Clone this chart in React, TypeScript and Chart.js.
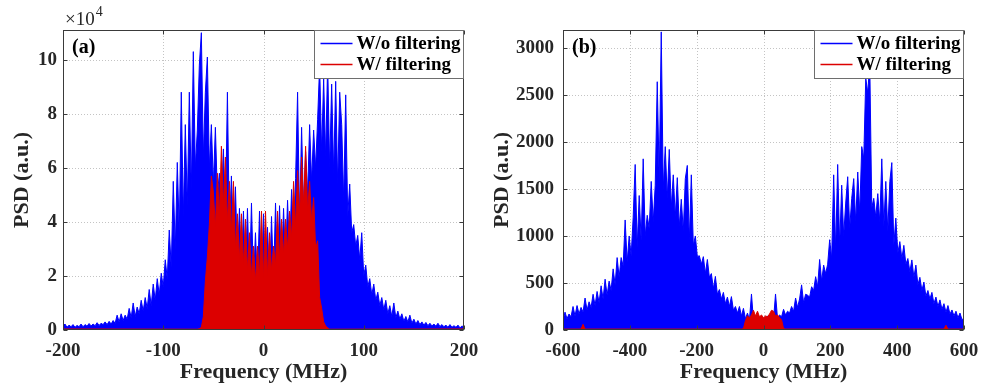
import React, { useEffect, useRef } from "react";
import { Chart, registerables } from "chart.js";

Chart.register(...registerables);

// ---------- Panel (a) data (PSD in units of 1e4) ----------
const A_X_TICKS = [-200, -100, 0, 100, 200];
const A_Y_TICKS = [0, 2, 4, 6, 8, 10];
const A_X_MIN = -200;
const A_X_MAX = 200;
const A_Y_MAX = 11.1;

const A_BLUE_START = -200;
const A_BLUE_STEP = 2;
const A_BLUE_PSD = [
  0.15, 0.22, 0.1, 0.18, 0.12, 0.2, 0.1, 0.17, 0.12, 0.22,
  0.12, 0.2, 0.14, 0.24, 0.15, 0.22, 0.16, 0.27, 0.17, 0.25,
  0.2, 0.3, 0.2, 0.32, 0.22, 0.35, 0.25, 0.55, 0.3, 0.6,
  0.35, 0.55, 0.4, 0.8, 0.45, 1.0, 0.5, 0.85, 0.6, 1.1,
  0.7, 1.2, 0.8, 1.5, 0.9, 1.7, 1.1, 1.9, 1.3, 2.1,
  1.6, 2.6, 1.9, 3.7, 2.3, 5.5, 3.0, 6.2, 3.6, 8.8,
  4.2, 7.6, 4.6, 8.8, 5.2, 10.3, 6.0, 7.4, 9.8, 11.0,
  6.4, 8.8, 10.1, 6.0, 7.6, 5.4, 7.5, 5.0, 5.8, 4.6,
  6.7, 4.0, 8.8, 3.6, 5.7, 3.0, 5.3, 2.6, 4.5, 2.2,
  4.4, 2.0, 4.5, 1.8, 4.7, 1.8, 3.6, 1.6, 4.4, 1.5,
  4.3, 1.6, 3.8, 1.6, 4.2, 1.8, 4.7, 2.0, 4.6, 2.2,
  4.5, 2.5, 4.8, 2.8, 5.2, 3.2, 5.6, 8.8, 4.0, 7.5,
  4.4, 6.6, 5.0, 7.6, 5.5, 7.4, 6.0, 7.8, 9.8, 6.6,
  9.3, 6.4, 9.9, 6.0, 9.1, 5.8, 9.2, 5.4, 8.8, 7.6,
  4.8, 8.7, 4.2, 5.4, 3.6, 3.9, 3.1, 3.5, 2.6, 3.6,
  2.0, 2.4, 1.6, 1.9, 1.3, 1.7, 1.1, 1.4, 0.9, 1.2,
  0.75, 1.1, 0.6, 0.9, 0.5, 1.0, 0.45, 0.7, 0.4, 0.6,
  0.32, 0.5, 0.3, 0.55, 0.25, 0.4, 0.22, 0.35, 0.2, 0.3,
  0.18, 0.28, 0.16, 0.25, 0.15, 0.22, 0.14, 0.25, 0.13, 0.2,
  0.12, 0.18, 0.1, 0.2, 0.1, 0.16, 0.1, 0.18, 0.08, 0.15,
  0.1,
];

const A_RED_START = -66;
const A_RED_STEP = 2;
const A_RED_FLOOR = 0.04;
const A_RED_PSD = [
  0.03, 0.05, 0.1, 0.5, 1.8, 2.7, 3.9, 5.7,
  5.1, 3.8, 5.8, 4.2, 6.8, 4.6, 6.4, 4.0, 5.5, 3.6,
  5.5, 3.0, 4.3, 2.6, 4.3, 2.4, 4.1, 2.2, 3.6, 2.0,
  3.1, 1.8, 3.1, 2.0, 4.4, 1.9, 4.4, 2.0, 3.6, 2.2,
  3.1, 2.4, 4.4, 2.6, 4.1, 2.8, 4.1, 3.0, 4.4, 3.4,
  5.5, 3.8, 5.9, 4.2, 6.4, 4.6, 6.8, 4.4, 5.5, 4.0,
  4.9, 3.0, 3.3, 1.2, 0.8, 0.3, 0.15, 0.08, 0.03,
];

// ---------- Panel (b) data (PSD, a.u.) ----------
const B_X_TICKS = [-600, -400, -200, 0, 200, 400, 600];
const B_Y_TICKS = [0, 500, 1000, 1500, 2000, 2500, 3000];
const B_X_MIN = -600;
const B_X_MAX = 600;
const B_Y_MAX = 3190;

const B_BLUE_START = -600;
const B_BLUE_STEP = 6;
const B_BLUE_PSD = [
  100, 190, 120, 170, 140, 250, 150, 260, 170, 240,
  190, 340, 210, 300, 240, 380, 260, 410, 290, 470,
  330, 540, 370, 520, 420, 650, 480, 770, 560, 770,
  680, 1170, 720, 1000, 790, 1200, 1760, 880, 1430, 950,
  1820, 1000, 1220, 1080, 1580, 1150, 1540, 2640, 1600, 3170,
  1500, 1950, 1400, 1920, 1300, 1650, 1200, 1620, 1100, 1390,
  1050, 1610, 1750, 950, 1650, 900, 1000, 780, 790, 700,
  780, 600, 750, 560, 600, 440, 570, 380, 430, 330,
  400, 280, 350, 250, 355, 210, 250, 180, 250, 150,
  230, 120, 180, 110, 383, 100, 150, 100, 140, 95,
  130, 100, 150, 110, 140, 110, 383, 120, 160, 140,
  220, 160, 200, 180, 250, 200, 340, 240, 330, 480,
  290, 380, 370, 350, 460, 420, 567, 460, 750, 520,
  690, 600, 700, 960, 760, 1650, 850, 1760, 900, 1540,
  1000, 1350, 1630, 1080, 1400, 1610, 1150, 1680, 1250, 1950,
  1826, 2680, 2520, 2850, 1300, 1400, 1200, 1450, 1150, 1820,
  1100, 1580, 1050, 1580, 1780, 900, 1190, 820, 940, 760,
  900, 700, 760, 620, 745, 560, 690, 480, 560, 420,
  510, 360, 420, 330, 400, 280, 350, 250, 320, 220,
  280, 190, 260, 170, 213, 150, 200, 130, 180, 110,
  125,
];

const B_RED_FREQ = [
  -600, -546, -540, -534, -66, -60, -54, -48, -42, -36, -30, -24, -18, -12, -6, 0,
  6, 12, 18, 24, 30, 36, 42, 48, 54, 60, 66, 540, 546, 552, 600,
];
const B_RED_PSD = [
  10, 10, 60, 10, 10, 15, 100, 150, 130, 160, 210, 150, 200, 140, 160, 130,
  150, 140, 170, 210, 200, 150, 160, 130, 110, 15, 10, 10, 50, 10, 10,
];

const LEGEND_LABELS = ["W/o filtering", "W/ filtering"];
const BLUE = "#0000ff";
const RED = "#dc0000";
const TEXT = "#262626";
const FONT = "'Liberation Serif', 'Times New Roman', serif";

type Pt = { x: number; y: number };

function gridSeries(start: number, step: number, vals: number[]): Pt[] {
  return vals.map((y, i) => ({ x: start + step * i, y }));
}

function pairSeries(xs: number[], ys: number[]): Pt[] {
  return xs.map((x, i) => ({ x, y: ys[i] }));
}

interface PanelCfg {
  blue: Pt[];
  red: Pt[];
  xMin: number;
  xMax: number;
  yMax: number;
  xTicks: number[];
  yTicks: number[];
  yAxisWidth: number;
  rightPad: number;
  yTickPad: number;
  label: string;
  exponent: boolean;
}

function gridPlugin(cfg: PanelCfg) {
  return {
    id: "dottedGrid",
    beforeDatasetsDraw(chart: any) {
      const { ctx, chartArea: ca } = chart;
      const xs = chart.scales.x;
      const ys = chart.scales.y;
      ctx.save();
      ctx.strokeStyle = "#c4c4c4";
      ctx.lineWidth = 1;
      ctx.setLineDash([1, 2]);
      ctx.beginPath();
      for (const v of cfg.xTicks) {
        const p = Math.round(xs.getPixelForValue(v)) + 0.5;
        if (p <= ca.left + 2 || p >= ca.right - 2) continue;
        ctx.moveTo(p, ca.top);
        ctx.lineTo(p, ca.bottom);
      }
      for (const v of cfg.yTicks) {
        const p = Math.round(ys.getPixelForValue(v)) + 0.5;
        if (p <= ca.top + 2 || p >= ca.bottom - 2) continue;
        ctx.moveTo(ca.left, p);
        ctx.lineTo(ca.right, p);
      }
      ctx.stroke();
      ctx.restore();
    },
  };
}

function framePlugin(cfg: PanelCfg) {
  return {
    id: "frame",
    afterDraw(chart: any) {
      const { ctx, chartArea: ca } = chart;
      const xs = chart.scales.x;
      const ys = chart.scales.y;
      const L = Math.round(ca.left) + 0.5;
      const R = Math.round(ca.right) - 0.5;
      const T = Math.round(ca.top) + 0.5;
      const B = Math.round(ca.bottom) - 0.5;
      ctx.save();
      ctx.strokeStyle = "#3a3a3a";
      ctx.lineWidth = 1;
      ctx.strokeRect(L, T, R - L, B - T);
      ctx.beginPath();
      for (const v of cfg.xTicks) {
        const p = Math.round(xs.getPixelForValue(v)) + 0.5;
        ctx.moveTo(p, T);
        ctx.lineTo(p, T + 4);
        ctx.moveTo(p, B);
        ctx.lineTo(p, B - 4);
      }
      for (const v of cfg.yTicks) {
        const p = Math.round(ys.getPixelForValue(v)) + 0.5;
        ctx.moveTo(L, p);
        ctx.lineTo(L + 4, p);
        ctx.moveTo(R, p);
        ctx.lineTo(R - 4, p);
      }
      ctx.stroke();

      // panel label
      ctx.fillStyle = "#000";
      ctx.font = `bold 20px ${FONT}`;
      ctx.textAlign = "left";
      ctx.textBaseline = "alphabetic";
      ctx.fillText(cfg.label, ca.left + 9, ca.top + 23);

      // exponent label
      if (cfg.exponent) {
        ctx.fillStyle = TEXT;
        ctx.font = `19px ${FONT}`;
        ctx.fillText("\u00d710", ca.left + 2, ca.top - 5);
        const w = ctx.measureText("\u00d710").width;
        ctx.font = `14px ${FONT}`;
        ctx.fillText("4", ca.left + 2 + w + 1, ca.top - 14);
      }

      // legend
      const lw = 149;
      const lh = 48;
      const lx = Math.round(ca.right) - lw - 1 + 0.5;
      const ly = Math.round(ca.top) + 0.5;
      ctx.fillStyle = "#fff";
      ctx.fillRect(lx, ly, lw, lh);
      ctx.strokeStyle = "#6e6e6e";
      ctx.strokeRect(lx, ly, lw, lh);
      const rows = [
        { c: BLUE, t: LEGEND_LABELS[0], y: ly + 13 },
        { c: RED, t: LEGEND_LABELS[1], y: ly + 34 },
      ];
      ctx.font = `bold 19px ${FONT}`;
      for (const r of rows) {
        ctx.strokeStyle = r.c;
        ctx.lineWidth = 1.5;
        ctx.beginPath();
        ctx.moveTo(lx + 6, r.y);
        ctx.lineTo(lx + 38, r.y);
        ctx.stroke();
        ctx.fillStyle = "#000";
        ctx.textBaseline = "middle";
        ctx.fillText(r.t, lx + 42, r.y + 1);
      }
      ctx.restore();
    },
  };
}

function buildChart(canvas: HTMLCanvasElement, cfg: PanelCfg) {
  const tickFont = { family: FONT, size: 19, weight: "bold" as const };
  const titleFont = { family: FONT, size: 22, weight: "bold" as const };
  return new Chart(canvas, {
    type: "line",
    data: {
      datasets: [
        {
          label: LEGEND_LABELS[1],
          data: cfg.red,
          borderColor: RED,
          backgroundColor: RED,
          borderWidth: 1,
          pointRadius: 0,
          fill: "origin",
          tension: 0,
          order: 0,
        },
        {
          label: LEGEND_LABELS[0],
          data: cfg.blue,
          borderColor: BLUE,
          backgroundColor: BLUE,
          borderWidth: 1,
          pointRadius: 0,
          fill: "origin",
          tension: 0,
          order: 1,
        },
      ],
    },
    options: {
      animation: false,
      responsive: false,
      devicePixelRatio: 1,
      events: [],
      layout: { padding: { left: 0, right: cfg.rightPad, top: 30, bottom: 0 } },
      plugins: {
        legend: { display: false },
        tooltip: { enabled: false },
      },
      scales: {
        x: {
          type: "linear",
          min: cfg.xMin,
          max: cfg.xMax,
          afterBuildTicks: (s: any) => {
            s.ticks = cfg.xTicks.map((v) => ({ value: v }));
          },
          afterFit: (s: any) => {
            s.height = 59;
            s.paddingLeft = 0;
            s.paddingRight = 0;
          },
          ticks: {
            color: TEXT,
            font: tickFont,
            padding: 10,
            maxRotation: 0,
            autoSkip: false,
            callback: (v: any) => String(v),
          },
          grid: { display: false, drawTicks: false },
          border: { display: false },
          title: {
            display: true,
            text: "Frequency (MHz)",
            color: TEXT,
            font: titleFont,
            padding: { top: 0, bottom: 3 },
          },
        },
        y: {
          type: "linear",
          min: 0,
          max: cfg.yMax,
          afterBuildTicks: (s: any) => {
            s.ticks = cfg.yTicks.map((v) => ({ value: v }));
          },
          afterFit: (s: any) => {
            s.width = cfg.yAxisWidth;
            s.paddingTop = 0;
            s.paddingBottom = 0;
          },
          ticks: {
            color: TEXT,
            font: tickFont,
            padding: cfg.yTickPad,
            autoSkip: false,
            callback: (v: any) => String(v),
          },
          grid: { display: false, drawTicks: false },
          border: { display: false },
          title: {
            display: true,
            text: "PSD (a.u.)",
            color: TEXT,
            font: titleFont,
            padding: { top: 9, bottom: 0 },
          },
        },
      },
    },
    plugins: [gridPlugin(cfg), framePlugin(cfg)],
  } as any);
}

export default function App() {
  const refA = useRef<HTMLCanvasElement>(null);
  const refB = useRef<HTMLCanvasElement>(null);

  useEffect(() => {
    document.body.style.margin = "0";
    const cfgA: PanelCfg = {
      blue: gridSeries(A_BLUE_START, A_BLUE_STEP, A_BLUE_PSD),
      red: [
        { x: A_X_MIN, y: A_RED_FLOOR },
        ...gridSeries(A_RED_START, A_RED_STEP, A_RED_PSD),
        { x: A_X_MAX, y: A_RED_FLOOR },
      ],
      xMin: A_X_MIN,
      xMax: A_X_MAX,
      yMax: A_Y_MAX,
      xTicks: A_X_TICKS,
      yTicks: A_Y_TICKS,
      yAxisWidth: 63,
      rightPad: 16,
      yTickPad: 6,
      label: "(a)",
      exponent: true,
    };
    const cfgB: PanelCfg = {
      blue: gridSeries(B_BLUE_START, B_BLUE_STEP, B_BLUE_PSD),
      red: pairSeries(B_RED_FREQ, B_RED_PSD),
      xMin: B_X_MIN,
      xMax: B_X_MAX,
      yMax: B_Y_MAX,
      xTicks: B_X_TICKS,
      yTicks: B_Y_TICKS,
      yAxisWidth: 83,
      rightPad: 17,
      yTickPad: 9,
      label: "(b)",
      exponent: false,
    };
    const a = buildChart(refA.current!, cfgA);
    const b = buildChart(refB.current!, cfgB);
    return () => {
      a.destroy();
      b.destroy();
    };
  }, []);

  return (
    <div style={{ position: "relative", width: 981, height: 389, background: "#fff" }}>
      <canvas
        ref={refA}
        width={480}
        height={389}
        style={{ position: "absolute", left: 0, top: 0, width: 480, height: 389 }}
      />
      <canvas
        ref={refB}
        width={501}
        height={389}
        style={{ position: "absolute", left: 480, top: 0, width: 501, height: 389 }}
      />
    </div>
  );
}
